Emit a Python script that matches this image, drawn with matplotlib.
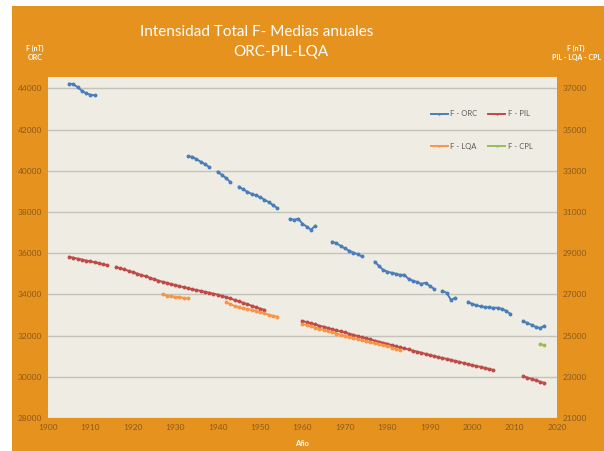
import matplotlib.pyplot as plt
from matplotlib.patches import Rectangle

plt.rcParams['font.family'] = ['Lato', 'DejaVu Sans']

# F - ORC (left axis), years and annual means in nT
orc_years = [1905, 1906, 1907, 1908, 1909, 1910, 1911,
             1933, 1934, 1935, 1936, 1937, 1938,
             1940, 1941, 1942, 1943,
             1945, 1946, 1947, 1948, 1949, 1950, 1951, 1952, 1953, 1954,
             1957, 1958, 1959, 1960, 1961, 1962, 1963,
             1967, 1968, 1969, 1970, 1971, 1972, 1973, 1974,
             1977, 1978, 1979, 1980, 1981, 1982, 1983, 1984, 1985, 1986, 1987, 1988, 1989, 1990, 1991,
             1993, 1994, 1995, 1996,
             1999, 2000, 2001, 2002, 2003, 2004, 2005, 2006, 2007, 2008, 2009,
             2012, 2013, 2014, 2015, 2016, 2017]
orc_vals = [44230, 44200, 44050, 43880, 43760, 43690, 43660,
            40700, 40680, 40560, 40440, 40320, 40180,
            39950, 39800, 39640, 39450,
            39230, 39100, 38980, 38880, 38800, 38720, 38600, 38480, 38340, 38200,
            37670, 37620, 37670, 37430, 37290, 37140, 37330,
            36560, 36480, 36350, 36230, 36120, 36030, 35950, 35840,
            35580, 35390, 35190, 35100, 35050, 35000, 34950, 34950, 34750, 34660, 34600, 34510, 34560, 34410, 34270,
            34170, 34070, 33730, 33830,
            33640, 33540, 33470, 33420, 33390, 33370, 33350, 33350, 33300, 33200, 33050,
            32710, 32610, 32520, 32420, 32370, 32470]

# F - PIL (right axis)
pil_years = list(range(1905, 1915)) + list(range(1916, 1952)) + list(range(1960, 2006)) + list(range(2012, 2018))
pil_vals = [28820, 28780, 28730, 28690, 28640, 28600, 28560, 28510, 28460, 28420,
            28330, 28270, 28210, 28140, 28080, 28010, 27940, 27880, 27810, 27740,
            27670, 27610, 27560, 27500, 27450, 27400, 27350, 27300, 27250, 27210,
            27170, 27120, 27080, 27030, 26990, 26930, 26870, 26800, 26730, 26660,
            26590, 26520, 26450, 26380, 26310, 26250,
            25710, 25650, 25600, 25540, 25480, 25430, 25370, 25310, 25260, 25200,
            25150, 25090, 25030, 24980, 24920, 24870, 24810, 24760, 24700, 24650,
            24600, 24540, 24490, 24430, 24380, 24330, 24270, 24220, 24170, 24110,
            24060, 24010, 23960, 23910, 23870, 23820, 23770, 23720, 23670, 23620,
            23570, 23520, 23480, 23430, 23380, 23330,
            23030, 22960, 22900, 22830, 22760, 22700]

# F - LQA (right axis)
lqa_years = list(range(1927, 1934)) + list(range(1942, 1955)) + list(range(1960, 1984))
lqa_vals = [27000, 26940, 26900, 26880, 26860, 26830, 26800,
            26630, 26520, 26440, 26380, 26330, 26290, 26250, 26200, 26140, 26080, 26020, 25960, 25920,
            25560, 25510, 25450, 25390, 25330, 25270, 25210, 25160, 25100, 25040,
            24990, 24930, 24880, 24830, 24770, 24720, 24670, 24620, 24580, 24540,
            24490, 24420, 24360, 24290]

# F - CPL (right axis)
cpl_years = [2016, 2017]
cpl_vals = [24590, 24530]

orange = '#E5921F'
tick_col = '#8A5A1C'

fig = plt.figure(figsize=(6.04, 4.51), dpi=100, facecolor='white')
fig.patches.append(Rectangle((12 / 604, 0), 1, (451 - 6) / 451, transform=fig.transFigure,
                             facecolor=orange, edgecolor='none', zorder=-10))

ax = fig.add_axes([48 / 604, 33 / 451, 509 / 604, 341 / 451])
ax.set_facecolor('#EFEDE3')
ax2 = ax.twinx()

def draw(a, years, vals, color, label):
    # break the line where years are missing
    segs, cur = [], [0]
    for i in range(1, len(years)):
        if years[i] - years[i - 1] > 1:
            segs.append(cur)
            cur = []
        cur.append(i)
    segs.append(cur)
    for k, s in enumerate(segs):
        a.plot([years[i] for i in s], [vals[i] for i in s], color=color, lw=1.4,
               marker='o', ms=1.8, label=label if k == 0 else None)

draw(ax, orc_years, orc_vals, '#4A7EBB', 'F - ORC')
draw(ax2, pil_years, pil_vals, '#BE4B48', 'F - PIL')
draw(ax2, lqa_years, lqa_vals, '#F79646', 'F - LQA')
draw(ax2, cpl_years, cpl_vals, '#9BBB59', 'F - CPL')

ax.set_xlim(1900, 2020)
ax.set_ylim(28000, 44550)
ax2.set_ylim(21000, 37550)
ax.set_xticks(range(1900, 2021, 10))
ax.set_yticks(range(28000, 44001, 2000))
ax2.set_yticks(range(21000, 37001, 2000))
ax.grid(axis='y', color='#C4C2BA', lw=1)
ax.set_axisbelow(True)
for a in (ax, ax2):
    for sp in a.spines.values():
        sp.set_visible(False)
    a.tick_params(length=0, labelsize=6, labelcolor=tick_col, pad=4)

h1, lb1 = ax.get_legend_handles_labels()
h2, lb2 = ax2.get_legend_handles_labels()
# order so that rows are ORC/PIL and LQA/CPL
leg = ax2.legend([h1[0], h2[1], h2[0], h2[2]], ['F - ORC', 'F - LQA', 'F - PIL', 'F - CPL'],
                 ncol=2, loc='upper right', bbox_to_anchor=(0.965, 0.922), frameon=False,
                 fontsize=5.5, labelspacing=3.35, handlelength=2.2, columnspacing=1.5,
                 handletextpad=0.3, markerscale=0.4)
for t in leg.get_texts():
    t.set_color('#595959')

fig.text(257 / 604, 1 - 32 / 451, 'Intensidad Total F- Medias anuales', color='white',
         fontsize=11, ha='center', va='center')
fig.text(281 / 604, 1 - 52 / 451, 'ORC-PIL-LQA', color='white',
         fontsize=11, ha='center', va='center')
fig.text(35 / 604, 1 - 53 / 451, 'F (nT)\nORC', color='white', fontsize=5,
         fontweight='bold', ha='center', va='center', linespacing=1.3)
fig.text(576 / 604, 1 - 53 / 451, 'F (nT)\nPIL - LQA - CPL', color='white', fontsize=5,
         fontweight='bold', ha='center', va='center', linespacing=1.3)
fig.text(302 / 604, 1 - 444 / 451, 'Año', color='white', fontsize=5.5,
         fontweight='bold', ha='center', va='center')

fig.savefig('out.png', dpi=100, facecolor='white')
